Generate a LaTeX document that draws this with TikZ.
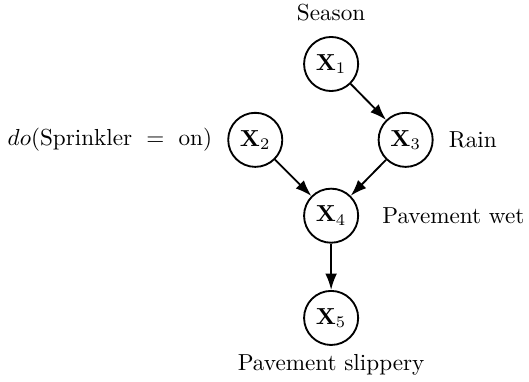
\documentclass[tikz,border=0pt]{standalone}
\usetikzlibrary{positioning,arrows.meta}
\begin{document}
\begin{tikzpicture}
[
    var/.style={draw, circle, thick, minimum size=0.82cm, inner sep=0pt},
    causal/.style={draw, thick, -{Latex[length=7pt,width=5pt]}}
]
    \useasboundingbox (-5.02,-4.82) rectangle (3.00,0.97);
    \node [var] (x1) at (0, 0) {$\mathbf{X}_1$};
    \node [var] (x2) at (-1.15, -1.15) {$\mathbf{X}_2$};
    \node [var] (x3) at (1.13, -1.15) {$\mathbf{X}_3$};
    \node [var] (x4) at (0, -2.30) {$\mathbf{X}_4$};
    \node [var] (x5) at (0, -3.85) {$\mathbf{X}_5$};
    \node [above=3pt of x1] (season) {Season};
    \node [left=3pt of x2] (sprinkler) {$do(\mbox{Sprinkler }=\mbox{ on})$};
    \node [right=3pt of x3] (rain) {Rain};
    \node [right=6.5pt of x4] (wet) {Pavement wet};
    \node [below=0pt of x5] (slippery) {Pavement slippery};
    \draw [causal] (x1) -- (x3);
    \draw [causal] (x2) -- (x4);
    \draw [causal] (x3) -- (x4);
    \draw [causal] (x4) -- (x5);
\end{tikzpicture}
\end{document}
